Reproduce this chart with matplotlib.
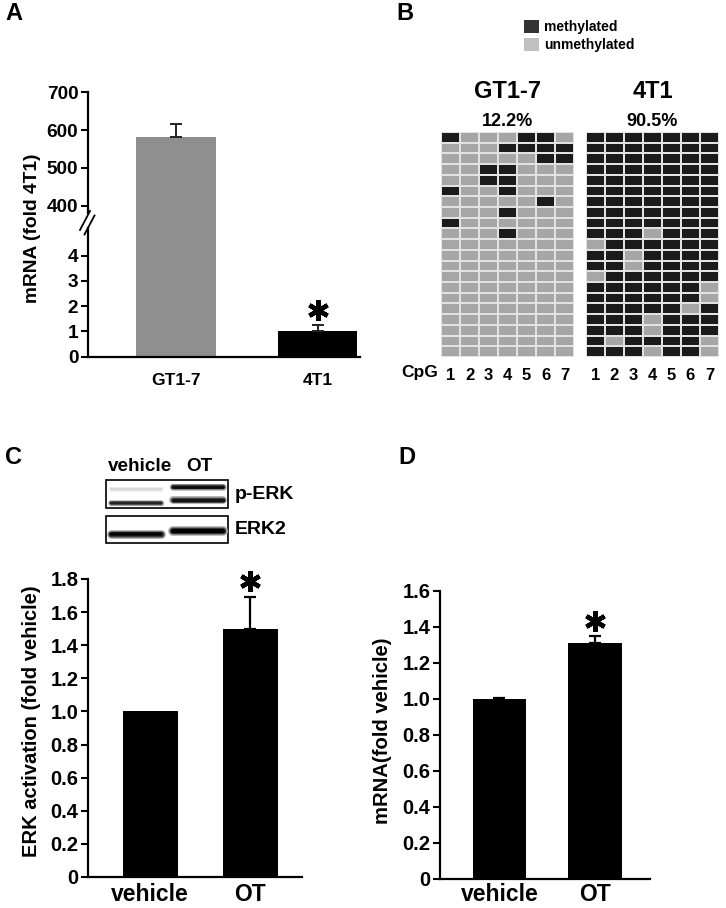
import numpy as np
import matplotlib.pyplot as plt
from matplotlib.lines import Line2D
from matplotlib.patches import Rectangle
from matplotlib.colors import ListedColormap
from matplotlib.transforms import blended_transform_factory

plt.rcParams['font.family'] = ['Liberation Sans', 'DejaVu Sans']
plt.rcParams['font.weight'] = 'bold'
plt.rcParams['axes.labelweight'] = 'bold'

W, H = 726, 908

# ---- data ----
# A: mRNA (fold 4T1)
a_groups = ['GT1-7', '4T1']
a_values = [582, 1.0]
a_errors = [35, 0.25]
a_colors = ['#8f8f8f', '#000000']
a_low_ticks = [0, 1, 2, 3, 4]
a_high_ticks = [400, 500, 600, 700]

# B: bisulfite clones (1 = methylated), rows = clones, cols = CpG 1..7
gt17_clones = [
    '1000110', '0001111', '0000011', '0011000', '0011000',
    '1001000', '0000010', '0001000', '1000000', '0001000',
    '0000000', '0000000', '0000000', '0000000', '0000000',
    '0000000', '0000000', '0000000', '0000000', '0000000',
    '0000000',
]
t41_clones = [
    '1111111', '1111111', '1111111', '1111111', '1111111',
    '1111111', '1111111', '1111111', '1111111', '1110111',
    '0111111', '1101111', '1101111', '0111111', '1111110',
    '1111110', '1111101', '1110111', '1110111', '1011110',
    '1110110',
]
b_lines = ['GT1-7', '4T1']
b_percent = ['12.2%', '90.5%']
cpg_sites = [1, 2, 3, 4, 5, 6, 7]

# C: ERK activation
c_groups = ['vehicle', 'OT']
c_values = [1.0, 1.5]
c_errors = [0.0, 0.19]
c_ticks = [0, 0.2, 0.4, 0.6, 0.8, 1.0, 1.2, 1.4, 1.6, 1.8]
blot_lanes = ['vehicle', 'OT']
perk_upper = [0.15, 0.95]
perk_lower = [0.85, 0.92]
erk2_band = [0.97, 1.0]

# D: mRNA (fold vehicle)
d_groups = ['vehicle', 'OT']
d_values = [1.0, 1.31]
d_errors = [0.005, 0.04]
d_ticks = [0, 0.2, 0.4, 0.6, 0.8, 1.0, 1.2, 1.4, 1.6]


def rect(x0, y0, x1, y1):
    return [x0 / W, 1 - y1 / H, (x1 - x0) / W, (y1 - y0) / H]


def ftext(x, y, s, **kw):
    kw.setdefault('ha', 'center')
    kw.setdefault('va', 'center')
    return fig.text(x / W, 1 - y / H, s, **kw)


def tick_fmt(v):
    return '0' if v == 0 else f'{v:.1f}'


def style_axes(ax, ysize=14.5, xsize=16.5):
    for s in ['top', 'right']:
        ax.spines[s].set_visible(False)
    for s in ['left', 'bottom']:
        ax.spines[s].set_linewidth(1.6)
    ax.tick_params(axis='y', direction='out', length=5, width=1.5, labelsize=ysize, pad=2)
    ax.tick_params(axis='x', length=0, labelsize=xsize)


def up_errors(ax, x, vals, errs, color='black', lw=1.6):
    # one-sided (upper) error bars, skipped where there is no error
    x = np.asarray(x)
    vals = np.asarray(vals)
    errs = np.asarray(errs)
    m = errs > 0
    ax.errorbar(x[m], vals[m], yerr=[np.zeros(m.sum()), errs[m]], fmt='none',
                ecolor=color, elinewidth=lw, capsize=4, capthick=lw)


def star(ax, x, y):
    ax.plot([x], [y], marker=(6, 2, 0), ms=15, mew=3.2, color='black', clip_on=False)


fig = plt.figure(figsize=(W / 100, H / 100), dpi=100)

# ---------- panel A ----------
brk_vals = [-100, 0, 5.1, 381, 700, 2000]
brk_px = [-2525, 0, 128.7, 143.7, 264.4, 755.8]


def fwd(v):
    return np.interp(v, brk_vals, brk_px)


def inv(p):
    return np.interp(p, brk_px, brk_vals)


axA = fig.add_axes(rect(88, 92.3, 360, 356.7))
axA.set_yscale('function', functions=(fwd, inv))
xa = np.arange(len(a_groups))
axA.bar(xa, a_values, width=0.56, color=a_colors)
up_errors(axA, xa, a_values, a_errors, color='#222222', lw=1.4)
axA.set_ylim(0, 700)
axA.set_xlim(-0.62, 1.3)
style_axes(axA, ysize=13.7, xsize=12.5)
axA.spines['left'].set_visible(False)
axA.set_yticks(a_low_ticks + a_high_ticks)
axA.set_yticklabels([str(t) for t in a_low_ticks + a_high_ticks])
axA.yaxis.set_minor_locator(plt.NullLocator())
axA.set_xticks(xa)
axA.set_xticklabels(a_groups)
axA.tick_params(axis='x', pad=12)
tr = blended_transform_factory(axA.transAxes, axA.transData)
axA.plot([0, 0], [0, 5.1], transform=tr, color='black', lw=1.6, clip_on=False)
axA.plot([0, 0], [381, 700], transform=tr, color='black', lw=1.6, clip_on=False)
for dx in (0, 4.5):
    fig.add_artist(Line2D([(80 + dx) / W, (90 + dx) / W], [1 - (230 + dx) / H, 1 - (211 + dx) / H],
                          color='black', lw=1.3))
star(axA, 1, a_values[1] + a_errors[1] + 0.6)
ftext(33, 228, 'mRNA (fold 4T1)', rotation=90, fontsize=13.8)

# ---------- panel B ----------
light, dark = '#a6a6a6', '#1b1b1b'
cmap = ListedColormap([light, dark])
grid_rects = [(441, 132, 574, 357), (586, 132, 719, 357)]
for clones, name, pct, gr in zip([gt17_clones, t41_clones], b_lines, b_percent, grid_rects):
    arr = np.array([[int(c) for c in row] for row in clones])
    ax = fig.add_axes(rect(*gr))
    ax.pcolormesh(arr, cmap=cmap, vmin=0, vmax=1, edgecolors='#e2e2e2', linewidth=1.2)
    ax.set_xlim(0, arr.shape[1])
    ax.set_ylim(arr.shape[0], 0)
    for s in ax.spines.values():
        s.set_visible(False)
    ax.set_yticks([])
    ax.set_xticks(np.arange(len(cpg_sites)) + 0.5)
    ax.set_xticklabels([str(c) for c in cpg_sites])
    ax.tick_params(axis='x', length=0, labelsize=12, pad=8)
    cx = (gr[0] + gr[2]) / 2
    ftext(cx, 91, name, fontsize=17)
    ftext(cx, 121, pct, fontsize=13)
ftext(420, 373, 'CpG', fontsize=12.5)

fig.add_artist(Rectangle((524 / W, 1 - 33 / H), 15 / W, 13 / H, transform=fig.transFigure,
                         facecolor='#333333', edgecolor='none'))
fig.add_artist(Rectangle((524 / W, 1 - 51 / H), 15 / W, 13 / H, transform=fig.transFigure,
                         facecolor='#c0c0c0', edgecolor='none'))
ftext(544, 27, 'methylated', fontsize=10, ha='left')
ftext(544, 45, 'unmethylated', fontsize=10, ha='left')

# ---------- panel C blot ----------
blot = fig.add_axes([0, 0, 1, 1], zorder=-1)
blot.set_xlim(0, W)
blot.set_ylim(H, 0)
blot.axis('off')
lane_x = [(108, 164), (170, 226)]
for (y0, y1) in [(480, 508), (516, 543)]:
    blot.add_patch(Rectangle((106, y0), 122, y1 - y0, facecolor='white', edgecolor='black', lw=1.2))


def band(x0, x1, y, thick, inten):
    for k, a in zip([1.0, 0.8, 0.6, 0.4], [0.25, 0.5, 0.8, 1.0]):
        g = 1 - inten * a
        blot.plot([x0 + 3, x1 - 3], [y, y], color=(g, g, g), lw=thick * k * 0.72,
                  solid_capstyle='round')


band(*lane_x[0], 488.5, 5, perk_upper[0])
band(*lane_x[1], 487, 7, perk_upper[1])
band(*lane_x[0], 502.5, 6, perk_lower[0])
band(*lane_x[1], 499.5, 8, perk_lower[1])
band(*lane_x[0], 533.5, 9, erk2_band[0])
band(*lane_x[1], 530.5, 10, erk2_band[1])
ftext(140, 467, blot_lanes[0], fontsize=13.6)
ftext(199, 467, blot_lanes[1], fontsize=13.6)
ftext(235, 495, 'p-ERK', fontsize=14, ha='left')
ftext(235, 530, 'ERK2', fontsize=14, ha='left')

# ---------- panel C bars ----------
axC = fig.add_axes(rect(88, 579, 302, 877))
xc = np.arange(len(c_groups))
axC.bar(xc, c_values, width=0.55, color='black')
up_errors(axC, xc, c_values, c_errors)
axC.set_ylim(0, 1.8)
axC.set_xlim(-0.62, 1.52)
style_axes(axC)
axC.set_yticks(c_ticks)
axC.set_yticklabels([tick_fmt(t) for t in c_ticks])
axC.set_xticks(xc)
axC.set_xticklabels(c_groups)
axC.tick_params(axis='x', pad=4)
star(axC, 1, c_values[1] + c_errors[1] + 0.1)
ftext(32, 721, 'ERK activation (fold vehicle)', rotation=90, fontsize=14.5)

# ---------- panel D ----------
axD = fig.add_axes(rect(440, 590.7, 650, 879))
xd = np.arange(len(d_groups))
axD.bar(xd, d_values, width=0.56, color='black')
up_errors(axD, xd, d_values, d_errors)
axD.set_ylim(0, 1.6)
axD.set_xlim(-0.62, 1.57)
style_axes(axD)
axD.set_yticks(d_ticks)
axD.set_yticklabels([tick_fmt(t) for t in d_ticks])
axD.set_xticks(xd)
axD.set_xticklabels(d_groups)
axD.tick_params(axis='x', pad=3)
star(axD, 1, d_values[1] + d_errors[1] + 0.08)
ftext(383, 731, 'mRNA(fold vehicle)', rotation=90, fontsize=14.6)

# panel letters
ftext(14, 14, 'A', fontsize=17)
ftext(405, 14, 'B', fontsize=17)
ftext(13, 457, 'C', fontsize=17)
ftext(407, 457, 'D', fontsize=17)

fig.savefig('out.png', dpi=100)
